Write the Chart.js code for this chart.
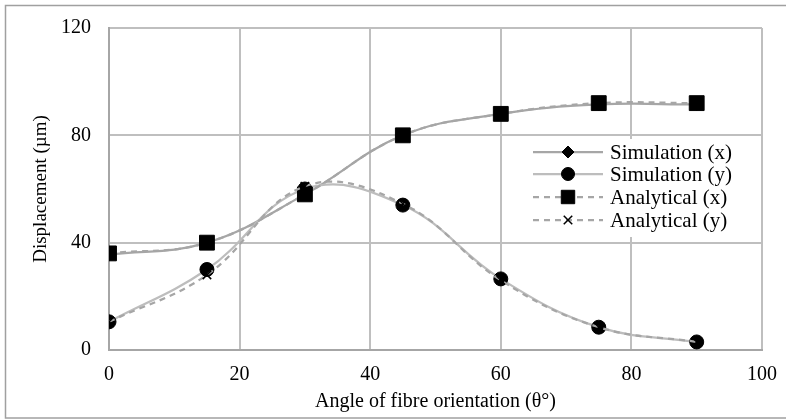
<!DOCTYPE html>
<html>
<head>
<meta charset="utf-8">
<script src="https://cdn.jsdelivr.net/npm/chart.js@4/dist/chart.umd.min.js"></script>
<style>
  html, body { margin: 0; padding: 0; background: #fff; }
  #wrap { width: 786px; height: 420px; position: relative; }
</style>
</head>
<body>
<div id="wrap"><canvas id="chart" width="786" height="420"></canvas></div>
<script>
// Data
const angles = [0, 15, 30, 45, 60, 75, 90]
const simX   = [35.5, 40, 58, 80, 88, 91.5, 91.5]
const simY   = [10.5, 30, 60, 54, 26.5, 8.5, 3]
const anaX   = [36, 40, 58, 80, 88, 92, 92]
const anaY   = [10.5, 28, 61, 54.5, 26, 8.5, 3]
const xTicks = [0, 20, 40, 60, 80, 100]
const yTicks = [0, 40, 80, 120]

const serif = "'Liberation Serif', 'Times New Roman', serif"

function pts (ys) {
  return angles.map((a, i) => ({x: a, y: ys[i]}))
}

/**
 * Outer frame + legend inside the plot
 */
const framePlugin = {
  id: 'frame',
  beforeDraw (chart) {
    let ctx = chart.ctx
    ctx.save()
    ctx.fillStyle = '#fff'
    ctx.fillRect(0, 0, chart.width, chart.height)
    ctx.strokeStyle = '#a0a0a0'
    ctx.lineWidth = 1.5
    ctx.strokeRect(5.5, 5.5, 800, 412.5)
    ctx.restore()
  }
}

const legendPlugin = {
  id: 'innerLegend',
  afterDraw (chart) {
    let ctx  = chart.ctx,
        x0   = 533,
        x1   = 603,
        mx   = 568,
        tx   = 610,
        rows = [152, 174, 197, 220]
    ctx.save()
    ctx.fillStyle = '#fff'
    ctx.fillRect(522, 139, 222, 98)
    chart.data.datasets.forEach((ds, i) => {
      let y = rows[i]
      ctx.strokeStyle = ds.borderColor
      ctx.lineWidth = ds.borderWidth
      ctx.setLineDash(ds.borderDash || [])
      ctx.beginPath()
      ctx.moveTo(x0, y)
      ctx.lineTo(x1, y)
      ctx.stroke()
      ctx.setLineDash([])
      ctx.fillStyle = '#000'
      ctx.strokeStyle = '#000'
      ctx.lineWidth = ds.pointBorderWidth || 1
      Chart.helpers.drawPoint(ctx, {
        pointStyle : ds.pointStyle,
        radius     : ds.legendRadius || ds.pointRadius,
        borderWidth: ds.pointBorderWidth || 1,
        rotation   : 0
      }, mx, y)
      ctx.fillStyle = '#000'
      ctx.font = '21px ' + serif
      ctx.textBaseline = 'middle'
      ctx.textAlign = 'left'
      ctx.fillText(ds.label, tx, y + 1)
    })
    ctx.restore()
  }
}

const lineGrey = '#a6a6a6'

new Chart(document.getElementById('chart'), {
  type   : 'line',
  data   : {
    datasets: [
      {
        label: 'Simulation (x)', data: pts(simX),
        borderColor: lineGrey, borderWidth: 2.25, tension: 0.4,
        pointStyle: 'rectRot', pointRadius: 6,
        pointBackgroundColor: '#000', pointBorderColor: '#000', pointBorderWidth: 1,
        order: 4
      },
      {
        label: 'Simulation (y)', data: pts(simY),
        borderColor: '#bdbdbd', borderWidth: 2.25, tension: 0.4,
        pointStyle: 'circle', pointRadius: 7, legendRadius: 6.5,
        pointBackgroundColor: '#000', pointBorderColor: '#000', pointBorderWidth: 1,
        order: 3
      },
      {
        label: 'Analytical (x)', data: pts(anaX),
        borderColor: lineGrey, borderWidth: 2.25, borderDash: [6, 5], tension: 0.4,
        pointStyle: 'rect', pointRadius: 10.5, legendRadius: 9.5,
        pointBackgroundColor: '#000', pointBorderColor: '#000', pointBorderWidth: 1,
        order: 2
      },
      {
        label: 'Analytical (y)', data: pts(anaY),
        borderColor: lineGrey, borderWidth: 2.25, borderDash: [6, 5], tension: 0.4,
        pointStyle: 'crossRot', pointRadius: 6,
        pointBackgroundColor: '#000', pointBorderColor: '#000', pointBorderWidth: 1.5,
        order: 1
      }
    ]
  },
  options: {
    responsive : false,
    animation  : false,
    layout     : {padding: {left: 0, right: 24, top: 28, bottom: 0}},
    plugins    : {legend: {display: false}, tooltip: {enabled: false}},
    scales     : {
      x: {
        type : 'linear', min: 0, max: 100,
        afterBuildTicks: s => { s.ticks = xTicks.map(v => ({value: v})) },
        afterFit: s => { s.height = 70; s.paddingLeft = 0; s.paddingRight = 0 },
        grid : {color: '#bfbfbf', lineWidth: 2, drawTicks: false},
        border: {color: '#a6a6a6', width: 2},
        ticks: {color: '#000', font: {family: serif, size: 20}, padding: 13, maxRotation: 0},
        title: {display: true, text: 'Angle of fibre orientation (θ°)', color: '#000',
                font: {family: serif, size: 20}, padding: {top: 0, bottom: 6}}
      },
      y: {
        min  : 0, max: 120,
        afterBuildTicks: s => { s.ticks = yTicks.map(v => ({value: v})) },
        afterFit: s => { s.width = 109; s.paddingTop = 0; s.paddingBottom = 0 },
        grid : {color: '#bfbfbf', lineWidth: 2, drawTicks: false},
        border: {color: '#a6a6a6', width: 2},
        ticks: {color: '#000', font: {family: serif, size: 20}, padding: 18},
        title: {display: true, text: 'Displacement (µm)', color: '#000',
                font: {family: serif, size: 19}, padding: {top: 30, bottom: 0}}
      }
    }
  },
  plugins: [framePlugin, legendPlugin]
})
</script>
</body>
</html>
